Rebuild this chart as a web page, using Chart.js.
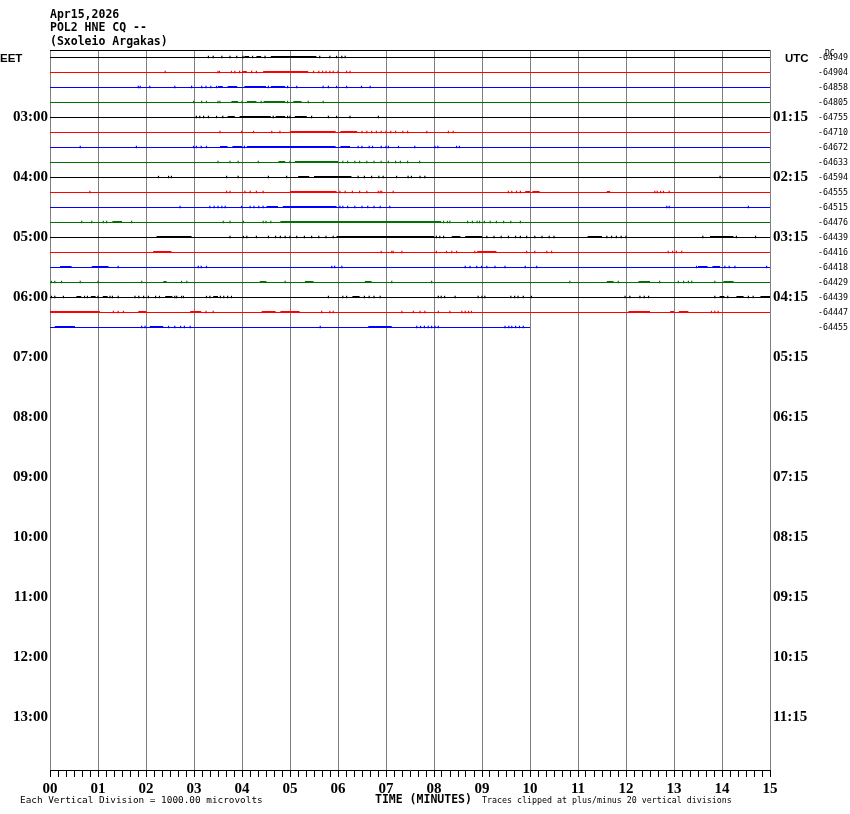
<!DOCTYPE html>
<html>
<head>
<meta charset="utf-8">
<title>POL2 HNE CQ helicorder</title>
<script src="https://cdn.jsdelivr.net/npm/chart.js@4.4.1/dist/chart.umd.min.js"></script>
<style>
  body { margin: 0; background: #fff; }
  #wrap { width: 850px; height: 814px; position: relative; }
</style>
</head>
<body>
<div id="wrap"><canvas id="heli"></canvas></div>
<script>
// header / footer texts
var titleLines = ['Apr15,2026', 'POL2 HNE CQ --', '(Sxoleio Argakas)'];
var footLeft = 'Each Vertical Division = 1000.00 microvolts';
var footAxis = 'TIME (MINUTES)';
var footRight = 'Traces clipped at plus/minus 20 vertical divisions';

// tick labels
var minuteLabels = ['00','01','02','03','04','05','06','07','08','09','10','11','12','13','14','15'];
var leftHours = ['03:00','04:00','05:00','06:00','07:00','08:00','09:00','10:00','11:00','12:00','13:00'];
var rightHours = ['01:15','02:15','03:15','04:15','05:15','06:15','07:15','08:15','09:15','10:15','11:15'];
var dcValues = ['-64949','-64904','-64858','-64805','-64755','-64710','-64672','-64633','-64594','-64555',
                '-64515','-64476','-64439','-64416','-64418','-64429','-64439','-64447','-64455'];

var traceColors = ['#000000', '#ff0000', '#0000ff', '#007000'];

// minute where each 15-min line stops
var rowEnds = [15,15,15,15,15,15,15,15,15,15,15,15,15,15,15,15,15,15,10];

// dense activity on each line, [start, end] in minutes
var burstRows = [
  [[4.05,4.15],[4.3,4.4],[4.6,5.55]],
  [[4.0,4.1],[4.44,5.38]],
  [[3.5,3.6],[3.7,3.9],[4.05,4.5],[4.6,4.9]],
  [[3.78,3.92],[4.1,4.3],[4.45,4.9],[5.07,5.24]],
  [[3.7,3.85],[3.95,4.6],[4.7,4.9],[5.1,5.35]],
  [[5.0,5.95],[6.05,6.4]],
  [[3.54,3.7],[3.8,4.0],[4.1,5.95],[6.05,6.25]],
  [[4.76,4.9],[5.1,6.0]],
  [[5.17,5.4],[5.5,6.28]],
  [[5.0,5.97],[9.9,10.0],[10.05,10.2],[11.6,11.67]],
  [[4.51,4.75],[4.85,5.97]],
  [[1.3,1.5],[4.8,8.15]],
  [[2.22,2.95],[5.97,8.0],[8.37,8.55],[8.65,9.0],[11.2,11.5],[13.75,14.24]],
  [[2.15,2.53],[8.9,9.3]],
  [[0.21,0.45],[0.87,1.22],[13.5,13.7],[13.8,13.96]],
  [[2.36,2.43],[4.37,4.51],[5.31,5.49],[6.56,6.7],[11.6,11.74],[12.26,12.5],[14.03,14.24]],
  [[0.55,0.65],[0.85,0.95],[1.1,1.2],[2.4,2.55],[3.4,3.5],[6.3,6.45],[13.95,14.05],[14.3,14.45],[14.8,15.0]],
  [[0.0,1.04],[1.84,2.01],[2.92,3.15],[4.41,4.7],[4.8,5.2],[12.05,12.5],[12.92,13.0],[13.1,13.3]],
  [[0.1,0.52],[2.08,2.36],[6.63,7.12]]
];

// isolated spikes on each line, minutes
var spikeRows = [
  [3.3,3.4,3.58,3.75,3.89,4.02,4.22,4.48,5.62,5.83,5.97,6.08,6.15],
  [2.4,3.5,3.53,3.78,3.85,3.95,4.2,4.3,5.49,5.6,5.68,5.75,5.83,5.9,6.0,6.18,6.25],
  [1.84,1.88,2.08,2.6,2.95,3.16,3.25,3.35,3.47,4.55,4.95,5.14,5.69,5.8,5.97,6.18,6.49,6.67],
  [2.99,3.16,3.26,3.5,3.54,4.0,4.4,4.95,5.38,5.69],
  [3.05,3.12,3.2,3.3,3.47,3.6,4.65,4.95,5.0,5.45,5.8,5.97,6.25,6.84],
  [3.54,3.99,4.24,4.62,4.79,6.5,6.6,6.7,6.8,6.9,7.0,7.1,7.2,7.35,7.45,7.85,8.3,8.4],
  [0.63,1.8,2.99,3.05,3.15,3.26,4.05,6.42,6.5,6.65,6.72,6.9,7.0,7.05,7.26,7.6,8.02,8.08,8.47,8.53],
  [3.5,3.75,3.92,4.34,5.0,6.1,6.2,6.35,6.45,6.6,6.75,6.9,7.05,7.2,7.3,7.45,7.7],
  [2.26,2.47,2.53,3.68,3.92,4.55,4.93,6.42,6.55,6.7,6.85,6.94,7.22,7.46,7.53,7.71,7.81,13.96],
  [0.83,3.68,3.75,4.06,4.17,4.3,4.44,6.04,6.15,6.3,6.45,6.6,6.84,6.88,6.91,7.15,9.55,9.62,9.72,9.8,
   12.6,12.65,12.72,12.78,12.9],
  [2.71,3.33,3.42,3.5,3.58,3.65,3.99,4.17,4.25,4.35,4.44,6.04,6.1,6.2,6.35,6.5,6.62,6.75,6.88,7.08,
   12.85,12.9,14.55],
  [0.66,0.87,1.11,1.18,1.7,3.61,3.75,4.03,4.44,4.5,4.6,8.2,8.28,8.33,8.7,8.8,8.9,8.95,9.05,9.17,
   9.3,9.45,9.6,9.8],
  [3.75,4.03,4.1,4.3,4.55,4.7,4.8,4.9,5.0,5.14,5.3,5.45,5.6,5.75,5.9,8.05,8.12,8.2,9.1,9.25,9.4,9.55,
   9.7,9.8,9.93,10.1,10.25,10.4,10.5,11.6,11.7,11.8,11.9,12.0,13.6,14.3,14.7],
  [6.9,7.12,7.15,7.33,8.05,8.26,8.37,8.47,8.85,9.93,10.1,10.35,10.45,12.88,12.97,13.05,13.16],
  [1.42,3.09,3.15,3.26,5.87,5.93,6.08,8.65,8.75,8.89,8.99,9.1,9.27,9.48,9.9,10.14,13.47,14.06,14.15,
   14.27,14.93],
  [0.03,0.1,0.24,0.63,1.0,1.91,2.74,2.85,4.9,7.12,7.95,10.83,11.84,12.7,13.09,13.2,13.3,13.37,13.85],
  [0.03,0.1,0.28,0.72,0.78,1.0,1.25,1.3,1.42,1.77,1.85,1.95,2.05,2.2,2.28,2.6,2.64,2.74,2.78,3.26,3.33,
   3.55,3.62,3.7,3.78,5.8,6.1,6.18,6.55,6.65,6.75,6.88,8.09,8.15,8.22,8.44,8.92,9.0,9.06,9.6,9.68,
   9.75,9.86,10.03,11.98,12.08,12.29,12.38,12.47,13.85,14.12,14.55,14.65],
  [1.32,1.42,1.53,3.25,3.4,5.66,5.83,5.9,7.33,7.57,7.71,7.81,8.09,8.33,8.58,8.65,8.72,8.78,13.78,
   13.85,13.92],
  [1.91,1.98,2.47,2.6,2.72,2.8,2.92,5.63,7.64,7.72,7.8,7.88,7.95,8.02,8.09,9.48,9.56,9.62,9.7,9.78,9.86]
];

var lift = 1 / 30; // half a pixel in row units, keeps the thick bits sitting on the line

var datasets = [];
for (var r = 0; r < rowEnds.length; r++) {
  var col = traceColors[r % 4];
  datasets.push({
    data: [{x: 0, y: r}, {x: rowEnds[r], y: r}],
    borderColor: col, borderWidth: 1, pointRadius: 0
  });
  var bpts = [];
  burstRows[r].forEach(function (b) {
    bpts.push({x: b[0], y: r - lift}, {x: b[1], y: r - lift}, {x: b[1], y: null});
  });
  datasets.push({
    data: bpts, borderColor: col, borderWidth: 2, pointRadius: 0, spanGaps: false, borderCapStyle: 'butt'
  });
  datasets.push({
    data: spikeRows[r].map(function (m) { return {x: m, y: r - lift}; }),
    showLine: false, pointStyle: 'line', pointRotation: 90, pointRadius: 1.2,
    pointBorderWidth: 1.2, pointBorderColor: col, borderColor: col
  });
}

var rowTicks = function (from, to, step) {
  var t = [];
  for (var v = from; v <= to; v += step) t.push({value: v});
  return t;
};

var frameText = {
  id: 'frameText',
  afterDraw: function (chart) {
    var ctx = chart.ctx, a = chart.chartArea;
    ctx.save();
    ctx.strokeStyle = '#000';
    ctx.lineWidth = 1;
    ctx.beginPath();
    ctx.moveTo(a.left, a.top + 0.5);
    ctx.lineTo(a.right, a.top + 0.5);
    ctx.stroke();

    ctx.fillStyle = '#000';
    ctx.textBaseline = 'alphabetic';
    ctx.textAlign = 'left';
    ctx.font = 'bold 11.5px "DejaVu Sans Mono"';
    ctx.fillText(titleLines[0], 50, 18);
    ctx.fillText(titleLines[1], 50, 31);
    ctx.fillText(titleLines[2], 50, 45);
    ctx.fillText(footAxis, 375, 803);

    ctx.font = 'bold 11.5px "Liberation Sans"';
    ctx.fillText('EET', 0, 62);
    ctx.fillText('UTC', 785, 62);

    ctx.font = '8px "DejaVu Sans Mono"';
    ctx.fillText('DC', 825, 56);
    ctx.font = '9.4px "DejaVu Sans Mono"';
    ctx.fillText(footLeft, 20, 803);
    ctx.font = '8.3px "DejaVu Sans Mono"';
    ctx.fillText(footRight, 482, 803);
    ctx.restore();
  }
};

var hourFont = {family: 'Liberation Serif', size: 15, weight: 'bold'};

new Chart(document.getElementById('heli'), {
  type: 'line',
  data: {datasets: datasets},
  options: {
    responsive: true,
    maintainAspectRatio: false,
    animation: false,
    events: [],
    layout: {padding: {top: 50, left: 0, right: 0, bottom: 0}},
    plugins: {legend: {display: false}, tooltip: {enabled: false}},
    scales: {
      x: {
        type: 'linear', min: 0, max: 15, position: 'bottom',
        afterBuildTicks: function (s) { s.ticks = rowTicks(0, 90, 1).map(function (t) { return {value: t.value / 6}; }); },
        afterFit: function (s) { s.height = 44; },
        grid: {
          color: function (c) { return c.index % 6 === 0 ? '#808080' : 'rgba(0,0,0,0)'; },
          tickColor: '#000', tickLength: 7, lineWidth: 1
        },
        border: {color: '#000', width: 1},
        ticks: {
          autoSkip: false, maxRotation: 0, padding: 3, color: '#000', font: hourFont,
          callback: function (v, i) { return i % 6 === 0 ? minuteLabels[i / 6] : ''; }
        }
      },
      y: {
        type: 'linear', min: -0.5, max: 47.5, reverse: true, position: 'left',
        afterBuildTicks: function (s) { s.ticks = rowTicks(4, 44, 4); },
        afterFit: function (s) { s.width = 50; },
        grid: {display: false, drawTicks: false}, border: {display: false},
        ticks: {
          padding: 2, color: '#000', font: hourFont,
          callback: function (v) { return leftHours[v / 4 - 1]; }
        }
      },
      yUtc: {
        type: 'linear', min: -0.5, max: 47.5, reverse: true, position: 'right', weight: 0,
        afterBuildTicks: function (s) { s.ticks = rowTicks(4, 44, 4); },
        afterFit: function (s) { s.width = 44; },
        grid: {display: false, drawTicks: false}, border: {display: false},
        ticks: {
          padding: 3, color: '#000', font: hourFont,
          callback: function (v) { return rightHours[v / 4 - 1]; }
        }
      },
      yDc: {
        type: 'linear', min: -0.5, max: 47.5, reverse: true, position: 'right', weight: 1,
        afterBuildTicks: function (s) { s.ticks = rowTicks(0, dcValues.length - 1, 1); },
        afterFit: function (s) { s.width = 36; },
        grid: {display: false, drawTicks: false}, border: {display: false},
        ticks: {
          autoSkip: false, padding: 4, color: '#000', font: {family: 'DejaVu Sans Mono', size: 8.3},
          callback: function (v) { return dcValues[v]; }
        }
      }
    }
  },
  plugins: [frameText]
});
</script>
</body>
</html>
